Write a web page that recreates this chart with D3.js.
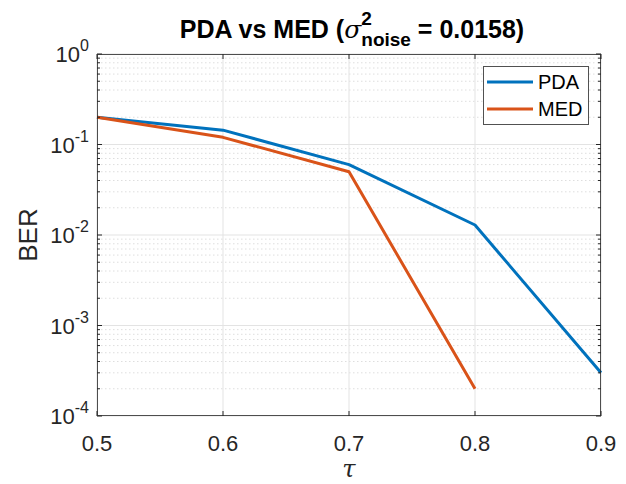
<!DOCTYPE html>
<html><head><meta charset="utf-8">
<script src="https://cdn.jsdelivr.net/npm/d3@7"></script>
<style>body{margin:0;background:#fff;} svg{display:block;font-family:"Liberation Sans",Arial,Helvetica,sans-serif;}</style>
</head><body>
<svg id="c" width="626" height="484"></svg>
<script>
const tau = [0.5, 0.6, 0.7, 0.8, 0.9];
const pdaBER = [0.2, 0.144, 0.06, 0.0129, 0.0003];
const medTau = [0.5, 0.6, 0.7, 0.8];
const medBER = [0.2, 0.12, 0.05, 0.0002];
const xTicks = [0.5, 0.6, 0.7, 0.8, 0.9];
const yExps = [0, -1, -2, -3, -4];
const seriesNames = ["PDA", "MED"];
const seriesColors = ["#0072BD", "#D95319"];

const svg = d3.select("#c");
const L = 97, R = 601, T = 54, B = 416;
const x = d3.scaleLinear().domain([0.5, 0.9]).range([L, R]);
const y = d3.scaleLog().domain([1e-4, 1]).range([B, T]);

// minor grid
const minors = [];
for (let e = -4; e < 0; e++) for (let k = 2; k <= 9; k++) minors.push(k * Math.pow(10, e));
svg.append("g").selectAll("line").data(minors).join("line")
  .attr("x1", L).attr("x2", R).attr("y1", d => y(d)).attr("y2", d => y(d))
  .attr("stroke", "#dedede").attr("stroke-width", 1).attr("stroke-dasharray", "1.5,2.5");
// major grid
svg.append("g").selectAll("line").data(yExps.map(e => Math.pow(10, e))).join("line")
  .attr("x1", L).attr("x2", R).attr("y1", d => y(d)).attr("y2", d => y(d))
  .attr("stroke", "#e3e3e3").attr("stroke-width", 1);
svg.append("g").selectAll("line").data(xTicks).join("line")
  .attr("y1", T).attr("y2", B).attr("x1", d => x(d)).attr("x2", d => x(d))
  .attr("stroke", "#e3e3e3").attr("stroke-width", 1);

// series
const line = d3.line().x(d => x(d[0])).y(d => y(d[1]));
const pdaData = tau.map((t, i) => [t, pdaBER[i]]);
const medData = medTau.map((t, i) => [t, medBER[i]]);
[pdaData, medData].forEach((dat, i) => {
  svg.append("path").datum(dat).attr("d", line).attr("fill", "none")
    .attr("stroke", seriesColors[i]).attr("stroke-width", 3).attr("stroke-linejoin", "round");
});

// axes box
svg.append("rect").attr("x", L + 0.5).attr("y", T + 0.5).attr("width", R - L - 1).attr("height", B - T - 1)
  .attr("fill", "none").attr("stroke", "#262626").attr("stroke-opacity", 0.8).attr("stroke-width", 1);

// ticks (inside)
const tk = svg.append("g").attr("stroke", "#262626");
xTicks.forEach(v => {
  tk.append("line").attr("x1", x(v)).attr("x2", x(v)).attr("y1", B).attr("y2", B - 5);
  tk.append("line").attr("x1", x(v)).attr("x2", x(v)).attr("y1", T).attr("y2", T + 5);
});
yExps.forEach(e => {
  const yy = y(Math.pow(10, e));
  tk.append("line").attr("x1", L).attr("x2", L + 5).attr("y1", yy).attr("y2", yy);
  tk.append("line").attr("x1", R).attr("x2", R - 5).attr("y1", yy).attr("y2", yy);
});
minors.forEach(v => {
  const yy = y(v);
  tk.append("line").attr("x1", L).attr("x2", L + 3).attr("y1", yy).attr("y2", yy);
  tk.append("line").attr("x1", R).attr("x2", R - 3).attr("y1", yy).attr("y2", yy);
});

// x tick labels
svg.append("g").selectAll("text").data(xTicks).join("text")
  .attr("x", d => x(d)).attr("y", 451).attr("text-anchor", "middle")
  .attr("font-size", 22).attr("fill", "#262626").text(d => d3.format(".1f")(d));

// y tick labels
const yl = svg.append("g");
yExps.forEach(e => {
  const t = yl.append("text").attr("x", 89).attr("y", y(Math.pow(10, e)) + 8)
    .attr("text-anchor", "end").attr("font-size", 22).attr("fill", "#262626");
  t.append("tspan").text("10");
  t.append("tspan").attr("dy", -11).attr("font-size", 16).text(String(e));
});

// axis labels
svg.append("text").attr("x", (L + R) / 2).attr("y", 477).attr("text-anchor", "middle")
  .attr("font-size", 24).attr("font-style", "italic").attr("font-family", "'DejaVu Serif',serif").attr("fill", "#262626").text("τ");
svg.append("text").attr("transform", `translate(37,${(T + B) / 2}) rotate(-90)`)
  .attr("text-anchor", "middle").attr("font-size", 26).attr("fill", "#262626").text("BER");

// title
const title = svg.append("text").attr("x", 0).attr("y", 38).attr("font-size", 25)
  .attr("font-weight", "bold").attr("fill", "#000");
title.append("tspan").text("PDA vs MED (");
title.append("tspan").attr("font-style", "italic").attr("font-weight", "normal").attr("font-family", "'DejaVu Serif',serif").text("σ");
const sup = title.append("tspan").attr("dy", -13).attr("font-size", 19).text("2");
const supW = sup.node().getComputedTextLength();
const sub = title.append("tspan").attr("dx", -supW).attr("dy", 21).attr("font-size", 19).text("noise");
title.append("tspan").attr("dy", -8).text(" = 0.0158)");
const tw = title.node().getComputedTextLength();
title.attr("x", 352 - (tw - supW) / 2);

// legend
const lg = svg.append("g");
lg.append("rect").attr("x", 483.5).attr("y", 66.5).attr("width", 105).attr("height", 58)
  .attr("fill", "#fff").attr("stroke", "#262626").attr("stroke-opacity", 0.8);
seriesNames.forEach((n, i) => {
  const yy = 82 + i * 27;
  lg.append("line").attr("x1", 487).attr("x2", 533).attr("y1", yy).attr("y2", yy)
    .attr("stroke", seriesColors[i]).attr("stroke-width", 3);
  lg.append("text").attr("x", 538).attr("y", yy + 7).attr("font-size", 20).attr("fill", "#000").text(n);
});
</script>
</body></html>
